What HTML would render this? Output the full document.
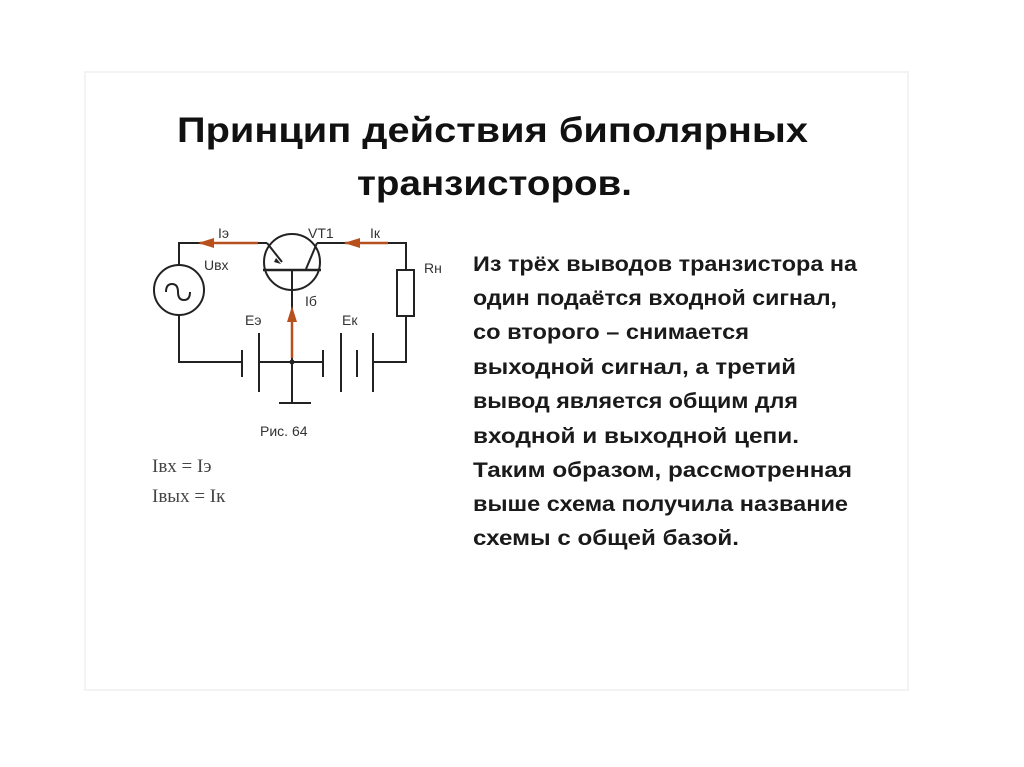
<!DOCTYPE html>
<html><head><meta charset="utf-8"><style>
html,body{margin:0;padding:0;background:#fff;}
svg{display:block}
</style></head><body>
<svg width="1024" height="767" viewBox="0 0 1024 767" xmlns="http://www.w3.org/2000/svg">
<rect x="0" y="0" width="1024" height="767" fill="#fff"/>
<rect x="85" y="72" width="823" height="618" fill="#fff" stroke="#f3f3f3" stroke-width="2"/>
<g font-family="'Liberation Sans', sans-serif" font-weight="bold" fill="#111">
<text x="177" y="142" font-size="35" textLength="631" lengthAdjust="spacingAndGlyphs">Принцип действия биполярных</text>
<text x="357" y="195" font-size="35" textLength="275" lengthAdjust="spacingAndGlyphs">транзисторов.</text>
</g>
<g font-family="'Liberation Sans', sans-serif" font-weight="bold" font-size="21" fill="#1a1a1a">
<text x="473" y="271" textLength="384" lengthAdjust="spacingAndGlyphs">Из трёх выводов транзистора на</text>
<text x="473" y="305" textLength="364" lengthAdjust="spacingAndGlyphs">один подаётся входной сигнал,</text>
<text x="473" y="339" textLength="276" lengthAdjust="spacingAndGlyphs">со второго – снимается</text>
<text x="473" y="374" textLength="323" lengthAdjust="spacingAndGlyphs">выходной сигнал, а третий</text>
<text x="473" y="408" textLength="325" lengthAdjust="spacingAndGlyphs">вывод является общим для</text>
<text x="473" y="443" textLength="326" lengthAdjust="spacingAndGlyphs">входной и выходной цепи.</text>
<text x="473" y="477" textLength="379" lengthAdjust="spacingAndGlyphs">Таким образом, рассмотренная</text>
<text x="473" y="511" textLength="375" lengthAdjust="spacingAndGlyphs">выше схема получила название</text>
<text x="473" y="545" textLength="266" lengthAdjust="spacingAndGlyphs">схемы с общей базой.</text>
</g>
<g stroke="#222" stroke-width="2" fill="none">
<polyline points="179,265 179,243 267,243"/>
<polyline points="317,243 406,243 406,270"/>
<rect x="397" y="270" width="17" height="46"/>
<polyline points="406,316 406,362 373,362"/>
<circle cx="179" cy="290" r="25"/>
<path d="M166,292 q0,-8 6,-8 q6,0 6,8 q0,8 6,8 q6,0 6,-8"/>
<polyline points="179,315 179,362 242,362"/>
<circle cx="292" cy="262" r="28"/>
<line x1="263" y1="270" x2="321" y2="270" stroke-width="2.5"/>
<line x1="267" y1="243" x2="282" y2="262"/>
<line x1="317" y1="243" x2="306" y2="269"/>
<line x1="292" y1="270" x2="292" y2="403"/>
<line x1="279" y1="403" x2="311" y2="403"/>
<line x1="242" y1="350" x2="242" y2="377"/>
<line x1="259" y1="333" x2="259" y2="392"/>
<line x1="259" y1="362" x2="323" y2="362"/>
<line x1="323" y1="350" x2="323" y2="377"/>
<line x1="341" y1="333" x2="341" y2="392"/>
<line x1="357" y1="350" x2="357" y2="377"/>
<line x1="373" y1="333" x2="373" y2="392"/>
</g>
<circle cx="292" cy="362" r="2.5" fill="#222"/>
<polygon points="276,258 281,264 274,262" fill="#222"/>
<g stroke="#b8501e" stroke-width="2.5" fill="#b8501e">
<line x1="200" y1="243" x2="258" y2="243"/>
<polygon points="198,243 214,238 214,248" stroke="none"/>
<line x1="345" y1="243" x2="388" y2="243"/>
<polygon points="344,243 360,238 360,248" stroke="none"/>
<line x1="292" y1="313" x2="292" y2="358"/>
<polygon points="292,306 287,322 297,322" stroke="none"/>
</g>
<g font-family="'Liberation Sans', sans-serif" font-size="14" fill="#333">
<text x="218" y="238">Iэ</text>
<text x="308" y="238">VT1</text>
<text x="370" y="238">Iк</text>
<text x="204" y="270">Uвх</text>
<text x="424" y="273">Rн</text>
<text x="305" y="306">Iб</text>
<text x="245" y="325">Eэ</text>
<text x="342" y="325">Eк</text>
<text x="260" y="436">Рис. 64</text>
</g>
<g font-family="'Liberation Serif', serif" font-size="19" fill="#444">
<text x="152" y="472">Iвх = Iэ</text>
<text x="152" y="502">Iвых = Iк</text>
</g>
</svg>
</body></html>
